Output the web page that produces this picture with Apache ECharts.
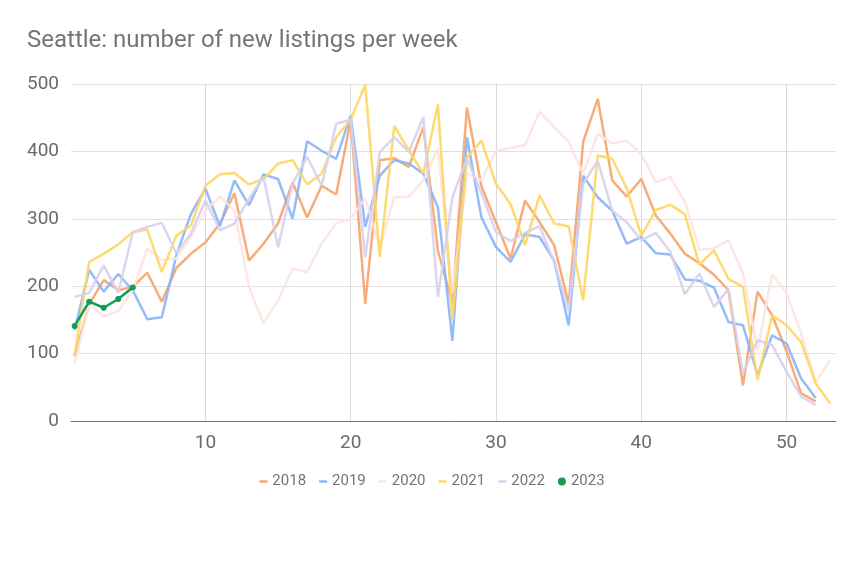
<!DOCTYPE html>
<html>
<head>
<meta charset="utf-8">
<script src="https://cdn.jsdelivr.net/npm/echarts@6/dist/echarts.min.js"></script>
<style>html,body{margin:0;padding:0;background:#fff}#c{width:864px;height:576px}</style>
</head>
<body>
<div id="c"></div>
<script>
const years = ['2018','2019','2020','2021','2022','2023'];
const xTicks = [10,20,30,40,50];
const yTicks = [0,100,200,300,400,500];
const v2018 = [96,173,209,194,199,220,177,227,248,265,293,338,238,263,293,354,302,349,336,446,174,387,390,377,436,253,175,465,348,295,241,327,295,261,174,414,478,357,333,359,305,278,248,234,217,194,53,192,157,103,41,29];
const v2019 = [135,224,192,218,194,151,154,246,307,345,289,357,320,366,359,300,415,401,389,453,288,364,387,382,367,317,119,421,302,258,236,277,273,238,142,364,332,312,263,273,249,247,210,208,198,147,142,68,127,115,63,34];
const v2020 = [85,174,155,163,194,256,239,241,273,312,333,312,199,145,179,226,221,263,293,300,330,258,332,333,357,404,190,367,357,401,405,409,459,436,414,367,426,412,416,396,354,362,325,254,256,268,219,105,218,189,130,58,90];
const v2021 = [98,236,248,262,280,284,221,275,290,349,366,368,351,359,382,387,351,367,421,447,499,243,438,401,367,470,150,391,416,352,322,261,335,293,289,179,394,389,345,275,313,321,307,232,253,211,199,61,157,142,117,56,26];
const v2022 = [184,190,231,190,280,288,294,249,278,327,283,293,330,362,258,352,392,349,441,447,243,399,421,399,451,184,332,389,338,280,267,279,289,236,164,352,386,312,295,268,279,251,188,219,169,196,71,120,113,73,36,24];
const v2023 = [141,177,168,181,198];

const values = [v2018, v2019, v2020, v2021, v2022, v2023];
const colors = ['#f7a36a','#8ab4f8','#fce4e1','#fdd663','#d7d1ec','#0f9d58'];
const toPts = arr => arr.map((v,i) => [i+1, v]);

const dash = 'path://M0,0M8,8M0,2.8H8V5.2H0Z';
const series = years.map((y, k) => ({
  name: y,
  type: 'line',
  data: toPts(values[k]),
  showSymbol: k === 5,
  symbol: 'circle',
  symbolSize: 6,
  z: 2 + k,
  lineStyle: {color: colors[k], width: 2.5, opacity: k === 5 ? 1 : 0.9},
  itemStyle: {color: colors[k]},
  emphasis: {disabled: true},
  animation: false
}));

const chart = echarts.init(document.getElementById('c'), null, {renderer: 'canvas'});
chart.setOption({
  backgroundColor: '#fff',
  animation: false,
  title: {
    text: 'Seattle: number of new listings per week',
    left: 22, top: 24,
    textStyle: {fontFamily: 'Roboto', fontSize: 24, fontWeight: 'normal', color: '#757575'}
  },
  grid: {left: 71, right: 28, top: 84, bottom: 155, containLabel: false},
  legend: {
    top: 469, left: 'center',
    itemWidth: 8, itemHeight: 8, itemGap: 13,
    textStyle: {fontFamily: 'Roboto', fontSize: 15, color: '#757575', padding: [0,0,0,0]},
    data: years.map((y, k) => ({name: y, icon: k === 5 ? 'circle' : dash}))
  },
  xAxis: {
    type: 'value', min: 0.75, max: 53.4,
    axisLine: {show: true, lineStyle: {color: '#757575', width: 1}},
    axisTick: {show: false, customValues: xTicks},
    axisLabel: {customValues: xTicks, fontFamily: 'Roboto', fontSize: 19, color: '#6b6b6b', margin: 13},
    splitLine: {show: true, lineStyle: {color: '#d9d9d9', width: 1}}
  },
  yAxis: {
    type: 'value', min: 0, max: 500, interval: 100,
    axisLine: {show: false},
    axisTick: {show: false},
    axisLabel: {fontFamily: 'Roboto', fontSize: 19, color: '#6b6b6b', margin: 12},
    splitLine: {show: true, lineStyle: {color: '#e0e0e0', width: 1}}
  },
  series: series
});
</script>
</body>
</html>
